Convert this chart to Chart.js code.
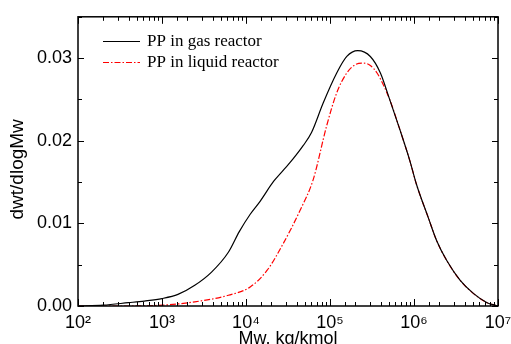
<!DOCTYPE html>
<html lang="en">
<head>
    <meta charset="UTF-8">
    <title>dwt/dlogMw</title>
    <script src="https://cdn.jsdelivr.net/npm/chart.js"></script>
    <style>
        body {
            margin: 0;
            background: #fff;
        }
        #wrap {
            width: 511px;
            height: 344px;
        }
    </style>
</head>
<body>
<div id="wrap"><canvas id="myChart"></canvas></div>
<script>
    const gasLogMw = [2.0, 2.3, 2.6, 2.79, 3.0, 3.19, 3.39, 3.59, 3.79, 3.92, 4.05, 4.17, 4.33, 4.45, 4.56, 4.68, 4.78, 4.92, 5.08, 5.2, 5.33, 5.48, 5.6, 5.71, 5.83, 5.95, 6.03, 6.17, 6.27, 6.39, 6.55, 6.71, 6.87, 6.96, 7.0];
    const gasValues = [0, 0.0001, 0.0004, 0.0006, 0.0009, 0.0014, 0.0025, 0.0041, 0.0065, 0.009, 0.0111, 0.0127, 0.0151, 0.0165, 0.0178, 0.0194, 0.021, 0.0246, 0.0282, 0.0302, 0.0309, 0.0302, 0.0282, 0.025, 0.0214, 0.0176, 0.0147, 0.0107, 0.0079, 0.0055, 0.0031, 0.0015, 0.0004, 0.0001, 0];

    const liquidLogMw = [2.0, 2.5, 3.0, 3.39, 3.79, 4.05, 4.25, 4.44, 4.64, 4.8, 4.96, 5.08, 5.2, 5.3, 5.4, 5.48, 5.56, 5.71, 5.83, 5.95, 6.03, 6.17, 6.27, 6.39, 6.55, 6.71, 6.87, 6.96, 7.0];
    const liquidValues = [0, 0, 0.0001, 0.0005, 0.0013, 0.0023, 0.0043, 0.0075, 0.0115, 0.0153, 0.0218, 0.0258, 0.0282, 0.0292, 0.0294, 0.0291, 0.0282, 0.025, 0.0214, 0.0176, 0.0147, 0.0107, 0.0079, 0.0055, 0.0031, 0.0015, 0.0004, 0.0001, 0];

    const seriesLabels = ['PP in gas reactor', 'PP in liquid reactor'];
    const yLabels = ['0.00', '0.01', '0.02', '0.03'];
    const supDigits = {2: '\u00B2', 3: '\u00B3', 4: '\u2074', 5: '\u2075', 6: '\u2076', 7: '\u2077'};

    function toPoints(logs, vals) {
        return logs.map((l, i) => ({ x: Math.pow(10, l), y: vals[i] }));
    }

    function isDecade(v) {
        const e = Math.log10(v);
        return Math.abs(e - Math.round(e)) < 1e-6;
    }

    // inward ticks on all four sides, frame and the legend
    const framePlugin = {
        id: 'frame',
        afterDraw(chart) {
            const c = chart.ctx;
            const a = chart.chartArea;
            const xs = chart.scales.x;
            const ys = chart.scales.y;
            c.save();
            c.setLineDash([]);
            c.strokeStyle = '#000000';
            c.lineWidth = 1;
            ys.ticks.forEach(t => {
                const py = Math.round(ys.getPixelForValue(t.value)) + 0.5;
                const major = Math.abs(t.value * 100 - Math.round(t.value * 100)) < 1e-6;
                const len = major ? 6 : 4;
                c.beginPath();
                c.moveTo(a.left, py); c.lineTo(a.left + len, py);
                c.moveTo(a.right, py); c.lineTo(a.right - len, py);
                c.stroke();
            });
            xs.ticks.forEach(t => {
                const px = Math.round(xs.getPixelForValue(t.value)) + 0.5;
                const len = isDecade(t.value) ? 7 : 4;
                c.beginPath();
                c.moveTo(px, a.bottom); c.lineTo(px, a.bottom - len);
                c.moveTo(px, a.top); c.lineTo(px, a.top + len);
                c.stroke();
            });
            c.lineWidth = 1.5;
            c.strokeRect(a.left, a.top, a.right - a.left, a.bottom - a.top);

            // legend
            const ds = chart.data.datasets;
            c.font = '17px "Liberation Serif", serif';
            c.textBaseline = 'middle';
            c.fillStyle = '#000';
            [41, 62].forEach((ly, i) => {
                c.lineWidth = 1;
                c.strokeStyle = ds[i].borderColor;
                c.setLineDash(ds[i].borderDash || []);
                c.beginPath();
                c.moveTo(a.left + 25, ly + 0.5);
                c.lineTo(a.left + 62, ly + 0.5);
                c.stroke();
                c.setLineDash([]);
                c.fillText(ds[i].label, a.left + 69, ly + 1);
            });
            c.restore();
        }
    };

    const ctx = document.getElementById('myChart').getContext('2d');
    const chart = new Chart(ctx, {
        type: 'line',
        data: {
            datasets: [
                {
                    label: seriesLabels[0],
                    data: toPoints(gasLogMw, gasValues),
                    borderColor: '#000000',
                    borderWidth: 1.2,
                },
                {
                    label: seriesLabels[1],
                    data: toPoints(liquidLogMw, liquidValues),
                    borderColor: '#ff0000',
                    borderWidth: 1.2,
                    borderDash: [6, 2, 1.5, 2],
                },
            ]
        },
        options: {
            responsive: true,
            maintainAspectRatio: false,
            animation: false,
            events: [],
            elements: {
                point: { radius: 0 },
                line: { cubicInterpolationMode: 'monotone', fill: false }
            },
            layout: {
                padding: { top: 13, right: 13, left: 0, bottom: 0 }
            },
            plugins: {
                legend: { display: false },
                tooltip: { enabled: false }
            },
            scales: {
                x: {
                    type: 'logarithmic',
                    min: 100,
                    max: 1e7,
                    afterFit: s => { s.height = 38; s.paddingRight = 0; s.paddingLeft = 0; },
                    grid: { display: false, drawTicks: false },
                    border: { display: false },
                    ticks: {
                        autoSkip: false,
                        maxRotation: 0,
                        padding: 6,
                        color: '#000',
                        font: { family: '"Liberation Sans", Arial, sans-serif', size: 18 },
                        callback: v => isDecade(v) ? '10' + supDigits[Math.round(Math.log10(v))] : ''
                    },
                    title: {
                        display: true,
                        text: 'Mw, kg/kmol',
                        color: '#000',
                        font: { family: '"Liberation Sans", Arial, sans-serif', size: 18 },
                        padding: { top: 0, bottom: -6 }
                    }
                },
                y: {
                    min: 0,
                    max: 0.035,
                    afterFit: s => { s.width = 78; },
                    grid: { display: false, drawTicks: false },
                    border: { display: false },
                    ticks: {
                        stepSize: 0.005,
                        padding: 6,
                        color: '#000',
                        font: { family: '"Liberation Sans", Arial, sans-serif', size: 18 },
                        callback: v => {
                            const k = Math.round(v * 100);
                            return Math.abs(v * 100 - k) < 1e-6 ? yLabels[k] : '';
                        }
                    },
                    title: {
                        display: true,
                        text: 'dwt/dlogMw   ',
                        color: '#000',
                        font: { family: '"Liberation Sans", Arial, sans-serif', size: 19 },
                        padding: { top: 6, bottom: 0 }
                    }
                }
            }
        },
        plugins: [framePlugin]
    });
</script>
</body>
</html>
